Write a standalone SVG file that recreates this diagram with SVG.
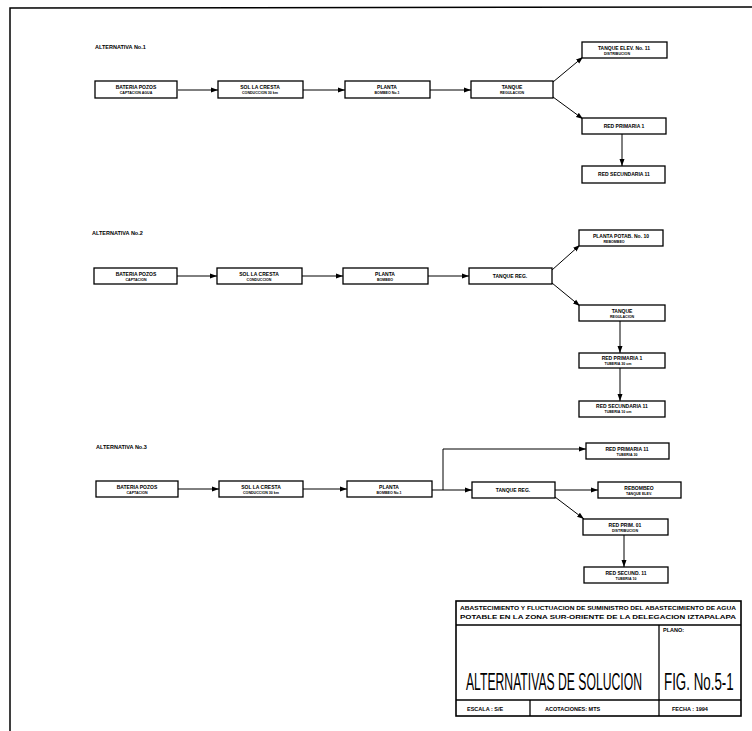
<svg xmlns="http://www.w3.org/2000/svg" width="752" height="731" viewBox="0 0 752 731">
<style>
.bx{fill:#fff;stroke:#000;stroke-width:1.3}
.ln{fill:none;stroke:#000;stroke-width:1}
.t{font-family:"Liberation Sans",Arial,sans-serif;font-weight:bold;font-size:5px;fill:#000;text-anchor:middle}
.s{font-family:"Liberation Sans",Arial,sans-serif;font-weight:bold;font-size:3.6px;fill:#000;text-anchor:middle}
.h{font-family:"Liberation Sans",Arial,sans-serif;font-weight:bold;font-size:5.5px;fill:#000}
.tb{font-family:"Liberation Sans",Arial,sans-serif;font-weight:bold;font-size:5.5px;fill:#000}
.big{font-family:"Liberation Sans",Arial,sans-serif;font-size:23px;fill:#000}
</style>
<defs>
<marker id="a" markerUnits="userSpaceOnUse" markerWidth="7" markerHeight="6" refX="7" refY="3" orient="auto">
<path d="M0,0.5 L7,3 L0,5.5 z" fill="#000"/>
</marker>
</defs>
<rect width="752" height="731" fill="#fff"/>
<g id="frame">
<path d="M10,731 L10,8 L752,7" fill="none" stroke="#000" stroke-width="1.5"/>
</g>
<g id="headings">
<text class="h" x="95" y="49">ALTERNATIVA No.1</text>
<text class="h" x="92" y="235">ALTERNATIVA No.2</text>
<text class="h" x="96" y="449">ALTERNATIVA No.3</text>
</g>
<g id="connectors">
<line class="ln" x1="178" y1="90" x2="218" y2="90" marker-end="url(#a)"/>
<line class="ln" x1="303" y1="90" x2="345" y2="90" marker-end="url(#a)"/>
<line class="ln" x1="430" y1="90" x2="471" y2="90" marker-end="url(#a)"/>
<line class="ln" x1="553" y1="82" x2="583" y2="57" marker-end="url(#a)"/>
<line class="ln" x1="553" y1="97" x2="583" y2="119" marker-end="url(#a)"/>
<line class="ln" x1="622" y1="134" x2="622" y2="166" marker-end="url(#a)"/>

<line class="ln" x1="177" y1="276" x2="217" y2="276" marker-end="url(#a)"/>
<line class="ln" x1="302" y1="276" x2="343" y2="276" marker-end="url(#a)"/>
<line class="ln" x1="428" y1="276" x2="469" y2="276" marker-end="url(#a)"/>
<line class="ln" x1="552" y1="270" x2="580" y2="245" marker-end="url(#a)"/>
<line class="ln" x1="552" y1="283" x2="580" y2="306" marker-end="url(#a)"/>
<line class="ln" x1="620" y1="321" x2="620" y2="353" marker-end="url(#a)"/>
<line class="ln" x1="620" y1="368" x2="620" y2="401" marker-end="url(#a)"/>

<line class="ln" x1="178" y1="489" x2="219" y2="489" marker-end="url(#a)"/>
<line class="ln" x1="303" y1="489" x2="347" y2="489" marker-end="url(#a)"/>
<line class="ln" x1="432" y1="490" x2="472" y2="490" marker-end="url(#a)"/>
<path class="ln" d="M443,490 L443,449 L586,449" marker-end="url(#a)"/>
<line class="ln" x1="555" y1="490" x2="598" y2="490" marker-end="url(#a)"/>
<line class="ln" x1="555" y1="497" x2="584" y2="519" marker-end="url(#a)"/>
<line class="ln" x1="624" y1="535" x2="624" y2="567" marker-end="url(#a)"/>
</g>

<g id="n1-1"><rect class="bx" x="95" y="81" width="82" height="17"/><text class="t" x="136" y="89">BATERIA POZOS</text><text class="s" x="136" y="94">CAPTACION AGUA</text></g>
<g id="n1-2"><rect class="bx" x="218" y="81" width="85" height="17"/><text class="t" x="260" y="89">SOL LA CRESTA</text><text class="s" x="260" y="94">CONDUCCION 30 km</text></g>
<g id="n1-3"><rect class="bx" x="345" y="81" width="85" height="17"/><text class="t" x="387" y="89">PLANTA</text><text class="s" x="387" y="94">BOMBEO No.1</text></g>
<g id="n1-4"><rect class="bx" x="471" y="81" width="82" height="17"/><text class="t" x="512" y="89">TANQUE</text><text class="s" x="512" y="94">REGULACION</text></g>
<g id="n1-5"><rect class="bx" x="582" y="42" width="85" height="16"/><text class="t" x="624" y="50">TANQUE ELEV. No. 11</text><text class="s" x="617" y="55">DISTRIBUCION</text></g>
<g id="n1-6"><rect class="bx" x="582" y="118" width="84" height="16"/><text class="t" x="624" y="128">RED PRIMARIA 1</text></g>
<g id="n1-7"><rect class="bx" x="582" y="166" width="83" height="17"/><text class="t" x="624" y="176">RED SECUNDARIA 11</text></g>

<g id="n2-1"><rect class="bx" x="94" y="268" width="83" height="16"/><text class="t" x="136" y="276">BATERIA POZOS</text><text class="s" x="136" y="281">CAPTACION</text></g>
<g id="n2-2"><rect class="bx" x="217" y="268" width="85" height="16"/><text class="t" x="259" y="276">SOL LA CRESTA</text><text class="s" x="259" y="281">CONDUCCION</text></g>
<g id="n2-3"><rect class="bx" x="343" y="268" width="85" height="16"/><text class="t" x="385" y="276">PLANTA</text><text class="s" x="385" y="281">BOMBEO</text></g>
<g id="n2-4"><rect class="bx" x="469" y="268" width="83" height="16"/><text class="t" x="510" y="278">TANQUE REG.</text></g>
<g id="n2-5"><rect class="bx" x="579" y="230" width="84" height="16"/><text class="t" x="621" y="238">PLANTA POTAB. No. 10</text><text class="s" x="614" y="243">REBOMBEO</text></g>
<g id="n2-6"><rect class="bx" x="579" y="305" width="86" height="16"/><text class="t" x="622" y="313">TANQUE</text><text class="s" x="622" y="318">REGULACION</text></g>
<g id="n2-7"><rect class="bx" x="579" y="353" width="86" height="15"/><text class="t" x="622" y="360">RED PRIMARIA 1</text><text class="s" x="618" y="365">TUBERIA 30 cm</text></g>
<g id="n2-8"><rect class="bx" x="579" y="401" width="86" height="16"/><text class="t" x="622" y="408">RED SECUNDARIA 11</text><text class="s" x="618" y="413">TUBERIA 10 cm</text></g>

<g id="n3-1"><rect class="bx" x="96" y="481" width="82" height="16"/><text class="t" x="137" y="489">BATERIA POZOS</text><text class="s" x="137" y="494">CAPTACION</text></g>
<g id="n3-2"><rect class="bx" x="219" y="481" width="84" height="16"/><text class="t" x="261" y="489">SOL LA CRESTA</text><text class="s" x="261" y="494">CONDUCCION 30 km</text></g>
<g id="n3-3"><rect class="bx" x="347" y="481" width="85" height="16"/><text class="t" x="389" y="489">PLANTA</text><text class="s" x="389" y="494">BOMBEO No.1</text></g>
<g id="n3-4"><rect class="bx" x="472" y="482" width="83" height="16"/><text class="t" x="513" y="492">TANQUE REG.</text></g>
<g id="n3-5"><rect class="bx" x="586" y="443" width="83" height="16"/><text class="t" x="627" y="451">RED PRIMARIA 11</text><text class="s" x="627" y="456">TUBERIA 30</text></g>
<g id="n3-6"><rect class="bx" x="598" y="482" width="83" height="16"/><text class="t" x="639" y="490">REBOMBEO</text><text class="s" x="639" y="495">TANQUE ELEV.</text></g>
<g id="n3-7"><rect class="bx" x="583" y="519" width="85" height="16"/><text class="t" x="625" y="527">RED PRIM. 01</text><text class="s" x="625" y="532">DISTRIBUCION</text></g>
<g id="n3-8"><rect class="bx" x="584" y="567" width="84" height="16"/><text class="t" x="626" y="575">RED SECUND. 11</text><text class="s" x="626" y="580">TUBERIA 10</text></g>

<g id="titleblock">
<rect x="456" y="601" width="285" height="115" fill="#fff" stroke="#000" stroke-width="1.6"/>
<line x1="456" y1="625" x2="741" y2="625" stroke="#000" stroke-width="1.3"/>
<line x1="456" y1="700" x2="741" y2="700" stroke="#000" stroke-width="1.3"/>
<line x1="659" y1="625" x2="659" y2="716" stroke="#000" stroke-width="1.3"/>
<line x1="530" y1="700" x2="530" y2="716" stroke="#000" stroke-width="1.3"/>
<text class="tb" x="460" y="610" textLength="276" lengthAdjust="spacingAndGlyphs">ABASTECIMIENTO Y FLUCTUACION DE SUMINISTRO DEL ABASTECIMIENTO DE AGUA</text>
<text class="tb" x="460" y="619" textLength="276" lengthAdjust="spacingAndGlyphs">POTABLE EN LA ZONA SUR-ORIENTE DE LA DELEGACION IZTAPALAPA</text>
<text class="tb" x="663" y="632" font-size="4.5">PLANO:</text>
<text class="big" transform="translate(466,690) scale(0.53,1)">ALTERNATIVAS DE SOLUCION</text>
<text class="big" transform="translate(664,690) scale(0.58,1)">FIG. No.5-1</text>
<text class="tb" x="467" y="711" font-size="4.5">ESCALA : S/E</text>
<text class="tb" x="545" y="711" font-size="4.5">ACOTACIONES: MTS</text>
<text class="tb" x="672" y="711" font-size="4.5">FECHA : 1994</text>
</g>
</svg>
